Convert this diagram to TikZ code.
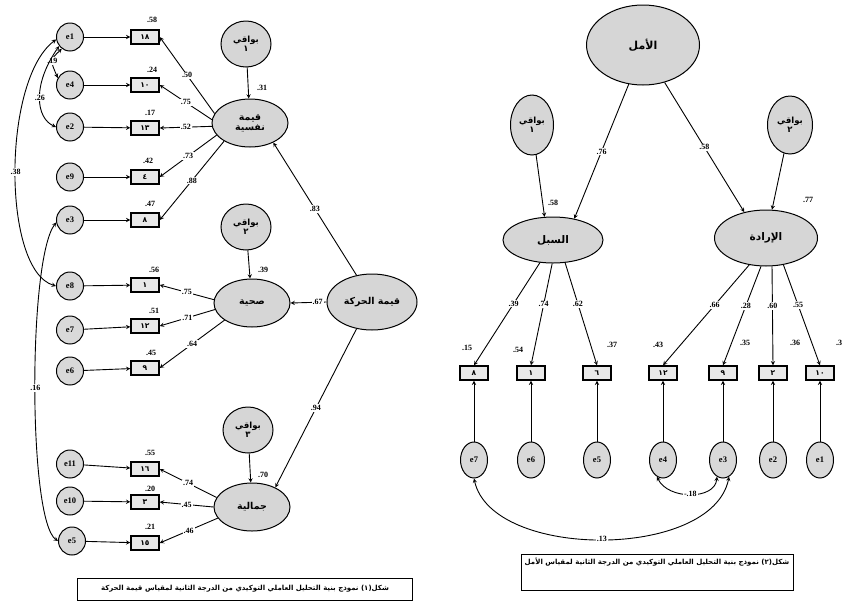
\documentclass[tikz,border=0pt]{standalone}
\usepackage{fontspec}
\setmainfont{Liberation Serif}
\newfontfamily\arabicfont[Script=Arabic]{DejaVu Sans}
\TeXXeTstate=1
\usetikzlibrary{shapes.geometric}
\newcommand{\artxt}[1]{{\arabicfont\beginR #1\endR}}
\newcommand{\numsize}{\fontsize{8}{9}\selectfont\bfseries}

\tikzset{
  err/.style = {ellipse, draw, line width=1pt, fill=gray!30, minimum width=27pt, minimum height=28pt, inner sep=0pt, font=\fontsize{8.5}{9}\selectfont\bfseries},
  item/.style = {rectangle, draw, line width=1.4pt, fill=gray!18, minimum width=28pt, minimum height=14pt, inner sep=0pt, font=\arabicfont\fontsize{7.5}{8}\selectfont\bfseries},
  fac/.style = {ellipse, draw, line width=1pt, fill=gray!32, minimum width=76pt, minimum height=48pt, inner sep=0pt, align=center, font=\fontsize{9.5}{10}\selectfont\bfseries},
  res/.style = {ellipse, draw, line width=1pt, fill=gray!32, minimum width=50pt, minimum height=46pt, inner sep=0pt, align=center, font=\fontsize{8.5}{9.5}\selectfont\bfseries},
  lab/.style = {fill=white, inner sep=1pt, font=\numsize},
  num/.style = {inner sep=0pt, font=\numsize},
  arr/.style = {line width=0.9pt, ->},
  cov/.style = {line width=0.9pt, <->},
  capbox/.style = {draw, line width=1pt, inner sep=0pt}
}

\begin{document}
\begin{tikzpicture}[x=1pt, y=-1pt, >=stealth]
\useasboundingbox (0,0) rectangle (844,614);

% left model: residuals and first order factors
\node[res] (r1) at (246,44) {\artxt{بواقي}\\\artxt{١}};
\node[res] (r2) at (246,227) {\artxt{بواقي}\\\artxt{٢}};
\node[res] (r3) at (248,430) {\artxt{بواقي}\\\artxt{٣}};
\node[fac] (f1) at (250,123) {\artxt{قيمة}\\\artxt{نفسية}};
\node[fac] (f2) at (252,303) {\artxt{صحية}};
\node[fac] (f3) at (252,507) {\artxt{جمالية}};
\node[fac, minimum width=90pt, minimum height=56pt] (val) at (372,302) {\artxt{قيمة الحركة}};
\draw[arr] (r1) -- (f1);
\draw[arr] (r2) -- (f2);
\draw[arr] (r3) -- (f3);
\draw[arr] (val.120) -- node[lab] {.83} (f1.320);
\draw[arr] (val.west) -- node[lab, pos=.25] {.67} (f2.east);
\draw[arr] (val.240) -- node[lab] {.94} (f3.40);
\node[num] (f1r) at (262,88) {.31};
\node[num] (f2r) at (263,270) {.39};
\node[num] (f3r) at (263,475) {.70};

% left model: errors and items
\node[err] (le1) at (70,37) {e1};   \node[item] (lb1) at (145,37) {١٨};
\node[err] (le2) at (70,85) {e4};   \node[item] (lb2) at (145,85) {١٠};
\node[err] (le3) at (70,127) {e2};  \node[item] (lb3) at (145,128) {١٣};
\node[err] (le4) at (70,177) {e9};  \node[item] (lb4) at (145,177) {٤};
\node[err] (le5) at (70,220) {e3};  \node[item] (lb5) at (145,220) {٨};
\node[err] (le6) at (70,286) {e8};  \node[item] (lb6) at (145,285) {١};
\node[err] (le7) at (70,330) {e7};  \node[item] (lb7) at (145,326) {١٢};
\node[err] (le8) at (70,371) {e6};  \node[item] (lb8) at (145,368) {٩};
\node[err] (le9) at (70,464) {e11}; \node[item] (lb9) at (145,469) {١٦};
\node[err] (le10) at (70,501) {e10}; \node[item] (lb10) at (145,502) {٣};
\node[err] (le11) at (72,541) {e5};  \node[item] (lb11) at (145,543) {١٥};
\draw[arr] (le1) -- (lb1);   \draw[arr] (le2) -- (lb2);
\draw[arr] (le3) -- (lb3);   \draw[arr] (le4) -- (lb4);
\draw[arr] (le5) -- (lb5);   \draw[arr] (le6) -- (lb6);
\draw[arr] (le7) -- (lb7);   \draw[arr] (le8) -- (lb8);
\draw[arr] (le9) -- (lb9);   \draw[arr] (le10) -- (lb10);
\draw[arr] (le11) -- (lb11);
\node[num] (lr1) at (152,20) {.58};
\node[num] (lr2) at (152,70) {.24};
\node[num] (lr3) at (150,113) {.17};
\node[num] (lr4) at (148,161) {.42};
\node[num] (lr5) at (150,204) {.47};
\node[num] (lr6) at (154,270) {.56};
\node[num] (lr7) at (154,311) {.51};
\node[num] (lr8) at (151,353) {.45};
\node[num] (lr9) at (150,453) {.55};
\node[num] (lr10) at (150,489) {.20};
\node[num] (lr11) at (150,527) {.21};
\draw[arr] (f1.165) -- node[lab] {.50} (lb1.east);
\draw[arr] (f1.175) -- node[lab] {.75} (lb2.east);
\draw[arr] (f1.185) -- node[lab] {.52} (lb3.east);
\draw[arr] (f1.200) -- node[lab] {.73} (lb4.east);
\draw[arr] (f1.215) -- node[lab] {.88} (lb5.east);
\draw[arr] (f2.175) -- node[lab] {.75} (lb6.east);
\draw[arr] (f2.190) -- node[lab] {.71} (lb7.east);
\draw[arr] (f2.212) -- node[lab] {.64} (lb8.east);
\draw[arr] (f3.165) -- node[lab] {.74} (lb9.east);
\draw[arr] (f3.180) -- node[lab] {.45} (lb10.east);
\draw[arr] (f3.198) -- node[lab] {.46} (lb11.east);
% covariances
\draw[cov] (le1.235) .. controls (50,60) .. node[lab] {.19} (le2.150);
\draw[cov] (le1.220) .. controls (32,85) and (36,118) .. node[lab] {.26} (le3.180);
\draw[cov] (le1.190) .. controls (2,80) and (2,270) .. node[lab] {.38} (le6.180);
\draw[cov] (le5.190) .. controls (28,260) and (28,520) .. node[lab] {.16} (le11.180);
\node[capbox, minimum width=335pt, minimum height=22pt] (capL) at (245,589) {};
\node[font=\arabicfont\fontsize{7}{8}\selectfont\bfseries] (capLtxt) at (245,589)
  {\artxt{شكل(١) نموذج بنية التحليل العاملي التوكيدي من الدرجة الثانية لمقياس قيمة الحركة}};

% right model
\node[fac, minimum width=113pt, minimum height=80pt, font=\fontsize{11}{12}\selectfont\bfseries] (hope) at (643,45) {\artxt{الأمل}};
\node[res, minimum width=43pt, minimum height=60pt] (rr1) at (532,125) {\artxt{بواقي}\\\artxt{١}};
\node[res, minimum width=45pt, minimum height=58pt] (rr2) at (790,125) {\artxt{بواقي}\\\artxt{٢}};
\node[fac, minimum width=100pt, minimum height=46pt, font=\fontsize{10.5}{11}\selectfont\bfseries] (way) at (553,240) {\artxt{السبل}};
\node[fac, minimum width=103pt, minimum height=56pt, font=\fontsize{10.5}{11}\selectfont\bfseries] (will) at (766,238) {\artxt{الإرادة}};
\draw[arr] (hope.250) -- node[lab] {.76} (way.45);
\draw[arr] (hope.300) -- node[lab] {.58} (will.130);
\draw[arr] (rr1) -- (way.110);
\draw[arr] (rr2) -- (will.78);
\node[num] (wayr) at (553,203) {.58};
\node[num] (willr) at (808,200) {.77};

\node[item] (rb1) at (474,373) {٨};   \node[err, minimum height=36pt] (re7) at (474,460) {e7};
\node[item] (rb2) at (531,373) {١};   \node[err, minimum height=36pt] (re6) at (531,460) {e6};
\node[item] (rb3) at (597,373) {٦};   \node[err, minimum height=36pt] (re5) at (597,460) {e5};
\node[item] (rb4) at (663,373) {١٢};  \node[err, minimum height=36pt] (re4) at (663,460) {e4};
\node[item] (rb5) at (723,373) {٩};   \node[err, minimum height=36pt] (re3) at (723,460) {e3};
\node[item] (rb6) at (773,373) {٢};   \node[err, minimum height=36pt] (re2) at (773,460) {e2};
\node[item] (rb7) at (820,373) {١٠};  \node[err, minimum height=36pt] (re1) at (820,460) {e1};
\draw[arr] (re7) -- (rb1);  \draw[arr] (re6) -- (rb2);
\draw[arr] (re5) -- (rb3);  \draw[arr] (re4) -- (rb4);
\draw[arr] (re3) -- (rb5);  \draw[arr] (re2) -- (rb6);
\draw[arr] (re1) -- (rb7);
\draw[arr] (way.240) -- node[lab, pos=.4] {.39} (rb1.north);
\draw[arr] (way.268) -- node[lab, pos=.4] {.74} (rb2.north);
\draw[arr] (way.298) -- node[lab, pos=.4] {.62} (rb3.north);
\draw[arr] (will.238) -- node[lab, pos=.4] {.66} (rb4.north);
\draw[arr] (will.260) -- node[lab, pos=.4] {.28} (rb5.north);
\draw[arr] (will.282) -- node[lab, pos=.4] {.60} (rb6.north);
\draw[arr] (will.303) -- node[lab, pos=.4] {.55} (rb7.north);
\node[num] (rr7) at (467,348) {.15};
\node[num] (rr6) at (518,350) {.54};
\node[num] (rr5) at (612,345) {.37};
\node[num] (rr4) at (658,345) {.43};
\node[num] (rr3) at (745,343) {.35};
\node[num] (rr2n) at (795,343) {.36};
\node[num, anchor=west] (rr1n) at (836,343) {.3};
\draw[cov] (re4.250) .. controls (668,500) and (715,500) .. node[lab] {-.18} (re3.250);
\draw[cov] (re7.270) .. controls (492,560) and (712,560) .. node[lab] {.13} (re3.290);
\node[capbox, minimum width=272pt, minimum height=36pt] (capR) at (657,572) {};
\node[font=\arabicfont\fontsize{7}{8}\selectfont\bfseries] (capRtxt) at (657,562)
  {\artxt{شكل(٢) نموذج بنية التحليل العاملي التوكيدي من الدرجة الثانية لمقياس الأمل}};
\end{tikzpicture}
\end{document}
